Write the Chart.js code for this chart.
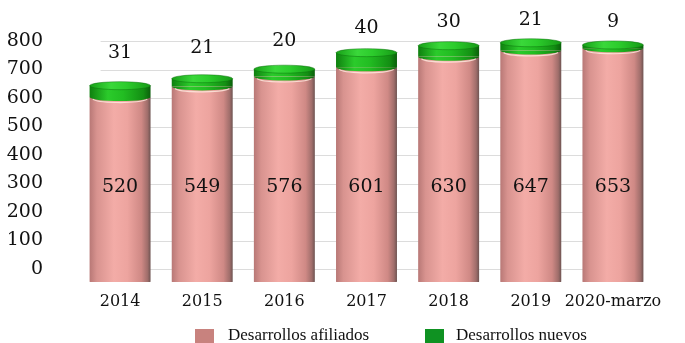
<!DOCTYPE html>
<html>
<head>
<meta charset="utf-8">
<script src="https://cdn.jsdelivr.net/npm/chart.js@4"></script>
<style>
  body { margin: 0; background: #fff; }
  #wrap { position: relative; width: 685px; height: 343px; overflow: hidden; }
  .leg { position: absolute; top: 326px; font-family: "Liberation Serif", serif; font-size: 17px; color: #111; line-height: 18px; white-space: nowrap; }
  .leg i { position: absolute; top: 3px; width: 19px; height: 14px; }
</style>
</head>
<body>
<div id="wrap">
  <canvas id="myChart" width="685" height="343"></canvas>
  <div class="leg" style="left:195px"><i style="left:0;background:#c8827e"></i><span style="margin-left:33px">Desarrollos afiliados</span></div>
  <div class="leg" style="left:425px"><i style="left:0;background:#0f9222"></i><span style="margin-left:31px">Desarrollos nuevos</span></div>
</div>
<script>
const years = ['2014', '2015', '2016', '2017', '2018', '2019', '2020-marzo']
const afiliados = [520, 549, 576, 601, 630, 647, 653]
const nuevos = [31, 21, 20, 40, 30, 21, 9]
const yTicks = [0, 100, 200, 300, 400, 500, 600, 700, 800]

const numFont = '"DejaVu Serif", serif'

// horizontal gradient across one bar, to look like a cylinder
function barGradient(context, stops) {
    const chart = context.chart
    const xs = chart.scales.x
    if (!xs || context.dataIndex === undefined) return stops[2][1]
    const x = xs.getPixelForValue(context.dataIndex)
    const w = xs.width / years.length * 0.742
    if (!isFinite(x) || !isFinite(w) || w <= 0) return stops[2][1]
    const g = chart.ctx.createLinearGradient(x - w / 2, 0, x + w / 2, 0)
    stops.forEach(s => g.addColorStop(s[0], s[1]))
    return g
}

const pinkStops = [[0, '#b87876'], [0.12, '#d8938f'], [0.4, '#f3aca7'], [0.62, '#eda49f'], [0.85, '#cf8985'], [0.95, '#a06e6b'], [1, '#6e5452']]
const greenStops = [[0, '#0f800f'], [0.3, '#2bcb2b'], [0.55, '#22bd22'], [0.88, '#138f13'], [1, '#0b5f0b']]
const capStops = [[0, '#17a017'], [0.35, '#3ad83a'], [0.6, '#2ccc2c'], [1, '#169a16']]

const cylinder = {
    id: 'cylinder',
    beforeDatasetsDraw(chart) {
        const ctx = chart.ctx
        const y = chart.scales.y
        const first = chart.getDatasetMeta(0).data[0]
        const last = chart.getDatasetMeta(0).data[years.length - 1]
        ctx.save()
        ctx.strokeStyle = '#dcdcdc'
        ctx.lineWidth = 1
        yTicks.forEach(v => {
            const py = Math.round(y.getPixelForValue(v)) + 0.5
            ctx.beginPath()
            ctx.moveTo(first.x - first.width / 2 + 11, py)
            ctx.lineTo(last.x + last.width / 2 - 10, py)
            ctx.stroke()
        })
        ctx.restore()
    },
    afterDatasetsDraw(chart) {
        const ctx = chart.ctx
        const low = chart.getDatasetMeta(0).data
        const high = chart.getDatasetMeta(1).data
        const y = chart.scales.y
        ctx.save()
        high.forEach((bar, i) => {
            const x = bar.x
            const w = bar.width
            const pinkTop = low[i].y
            // green lower rim over the pink body
            let g = ctx.createLinearGradient(x - w / 2, 0, x + w / 2, 0)
            greenStops.forEach(s => g.addColorStop(s[0], s[1]))
            ctx.beginPath()
            ctx.ellipse(x, pinkTop, w / 2, 4, 0, 0, Math.PI)
            ctx.fillStyle = g
            ctx.fill()
            // light line on the pink just under the green
            ctx.beginPath()
            ctx.ellipse(x, pinkTop + 1.5, w / 2 - 3, 4, 0, 0.15, Math.PI - 0.15)
            ctx.strokeStyle = 'rgba(255,235,225,0.8)'
            ctx.lineWidth = 1.2
            ctx.stroke()
            // top cap
            g = ctx.createLinearGradient(x - w / 2, 0, x + w / 2, 0)
            capStops.forEach(s => g.addColorStop(s[0], s[1]))
            ctx.beginPath()
            ctx.ellipse(x, bar.y, w / 2, 4, 0, 0, 2 * Math.PI)
            ctx.fillStyle = g
            ctx.fill()
            ctx.strokeStyle = 'rgba(10,110,10,0.6)'
            ctx.lineWidth = 0.8
            ctx.stroke()

            // value labels
            ctx.fillStyle = '#111'
            ctx.font = '19px ' + numFont
            ctx.textAlign = 'center'
            ctx.textBaseline = 'middle'
            const total = afiliados[i] + nuevos[i]
            ctx.fillText(nuevos[i], x, y.getPixelForValue(total + 205))
            ctx.fillText(afiliados[i], x, y.getPixelForValue(288))
        })
        ctx.restore()
    }
}

const data = {
    labels: years,
    datasets: [{
        label: 'Desarrollos afiliados',
        data: afiliados,
        yAxisID: 'yb',
        backgroundColor: ctx => barGradient(ctx, pinkStops),
        borderWidth: 0,
        borderSkipped: false,
        borderRadius: { topLeft: 0, topRight: 0, bottomLeft: 7, bottomRight: 7 },
        categoryPercentage: 1,
        barPercentage: 0.742
    }, {
        label: 'Desarrollos nuevos',
        data: nuevos,
        yAxisID: 'yb',
        backgroundColor: ctx => barGradient(ctx, greenStops),
        borderWidth: 0,
        categoryPercentage: 1,
        barPercentage: 0.742
    }]
}

const config = {
    type: 'bar',
    data: data,
    plugins: [cylinder],
    options: {
        responsive: false,
        animation: false,
        layout: { padding: { top: 20, right: 31, bottom: 0, left: 0 } },
        plugins: {
            legend: { display: false },
            tooltip: { enabled: false }
        },
        scales: {
            x: {
                stacked: true,
                grid: { display: false, drawTicks: false },
                border: { display: false },
                ticks: {
                    color: '#111',
                    font: { family: numFont, size: 16 },
                    maxRotation: 0,
                    autoSkip: false,
                    padding: 10
                },
                afterFit(axis) { axis.height = 61 }
            },
            y: {
                position: 'left',
                min: -45.6,
                max: 873.7,
                grid: { display: false, drawTicks: false },
                border: { display: false },
                ticks: {
                    color: '#111',
                    font: { family: numFont, size: 19 },
                    padding: 36
                },
                afterBuildTicks(axis) {
                    axis.ticks = yTicks.map(v => ({ value: v }))
                },
                afterFit(axis) {
                    axis.width = 79
                    axis.paddingTop = 0
                    axis.paddingBottom = 0
                }
            },
            yb: {
                display: false,
                stacked: true,
                min: 16,
                max: 730
            }
        }
    }
}

const myChart = new Chart(document.getElementById('myChart'), config)
</script>
</body>
</html>
